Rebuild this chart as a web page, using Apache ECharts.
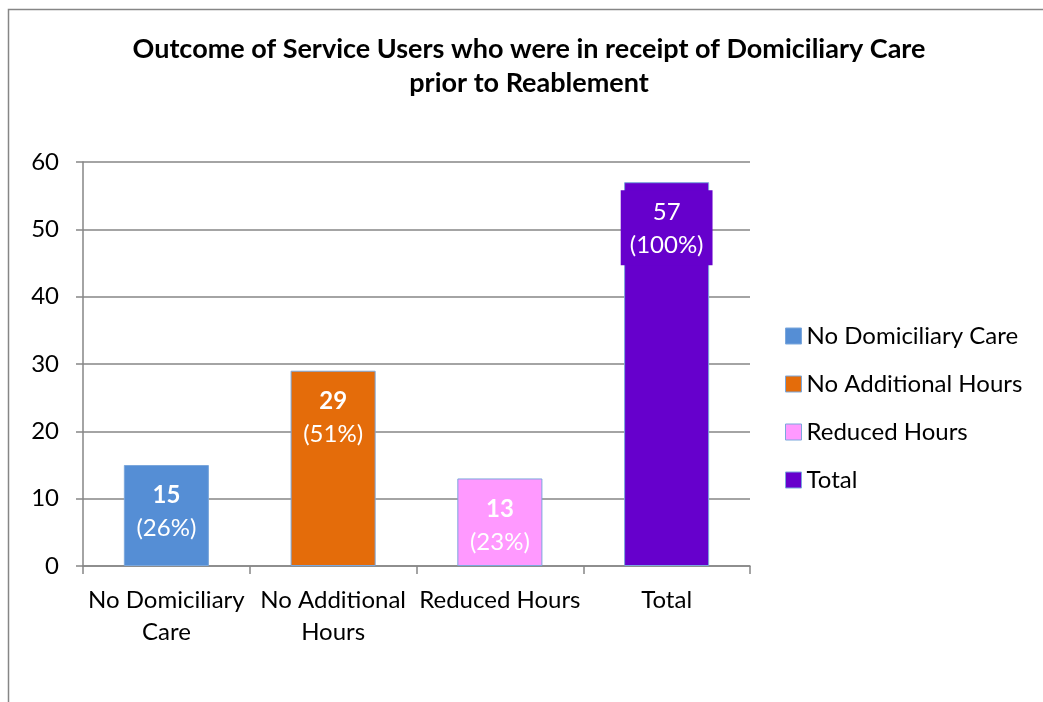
<!DOCTYPE html>
<html>
<head>
<meta charset="utf-8">
<style>
  html, body { margin: 0; padding: 0; background: #fff; }
  #chart { width: 1043px; height: 702px; }
</style>
<script src="https://cdn.jsdelivr.net/npm/echarts@6/dist/echarts.min.js"></script>
</head>
<body>
<div id="chart"></div>
<script>
// data
const categories = ['No Domiciliary\nCare', 'No Additional\nHours', 'Reduced Hours', 'Total'];
const seriesNames = ['No Domiciliary Care', 'No Additional Hours', 'Reduced Hours', 'Total'];
const values = [15, 29, 13, 57];
const percents = ['26%', '51%', '23%', '100%'];
const colors = ['#558ED5', '#E46C0A', '#FF99FF', '#6600CC'];

const font = 'Lato, "Open Sans", sans-serif';

const chart = echarts.init(document.getElementById('chart'));

// one series per category, stacked so each bar sits centred on its own category
const series = seriesNames.map((name, i) => {
  const data = categories.map((c, j) => (j === i ? values[i] : '-'));
  const isTotal = name === 'Total';
  return {
    name: name,
    type: 'bar',
    stack: 'all',
    barWidth: '51%',
    data: data,
    itemStyle: { color: colors[i], borderColor: '#7BA7DC', borderWidth: 1 },
    label: {
      show: true,
      position: 'insideTop',
      distance: isTotal ? 8 : 14,
      formatter: () => '{v|' + values[i] + '}\n{p|(' + percents[i] + ')}',
      backgroundColor: isTotal ? colors[i] : 'transparent',
      padding: isTotal ? [6, 9, 3, 9] : 0,
      rich: {
        v: { color: '#fff', fontFamily: font, fontSize: 24, fontWeight: isTotal ? 'normal' : 'bold', lineHeight: 33 },
        p: { color: '#fff', fontFamily: font, fontSize: 24, lineHeight: 33 }
      }
    }
  };
});

chart.setOption({
  animation: false,
  title: {
    text: 'Outcome of Service Users who were in receipt of Domiciliary Care\nprior to Reablement',
    left: 524,
    top: 27,
    textAlign: 'center',
    textStyle: { fontFamily: font, fontSize: 27, fontWeight: 'bold', color: '#000', lineHeight: 34 }
  },
  graphic: [{
    type: 'rect',
    shape: { x: 8.5, y: 9.5, width: 1100, height: 800 },
    style: { fill: 'none', stroke: '#868686', lineWidth: 1.5 },
    silent: true
  }],
  legend: {
    orient: 'vertical',
    left: 785,
    top: 324,
    padding: 0,
    icon: 'rect',
    itemWidth: 16,
    itemHeight: 16,
    itemGap: 24,
    data: seriesNames,
    itemStyle: { borderColor: '#7BA7DC', borderWidth: 1 },
    textStyle: { fontFamily: font, fontSize: 24, color: '#000' }
  },
  grid: { left: 83, right: 293, top: 162, bottom: 136 },
  xAxis: {
    type: 'category',
    data: categories,
    axisLine: { lineStyle: { color: '#868686', width: 1.5 } },
    axisTick: { show: true, length: 8, lineStyle: { color: '#868686', width: 1.5 } },
    axisLabel: { fontFamily: font, fontSize: 24, color: '#000', margin: 18, lineHeight: 32, interval: 0 }
  },
  yAxis: {
    type: 'value',
    min: 0,
    max: 60,
    interval: 10,
    axisLine: { show: true, lineStyle: { color: '#868686', width: 1.5 } },
    axisTick: { show: true, length: 7, lineStyle: { color: '#868686', width: 1.5 } },
    splitLine: { lineStyle: { color: '#868686', width: 1.5 } },
    axisLabel: { fontFamily: font, fontSize: 24, color: '#000', margin: 24 }
  },
  series: series
});
</script>
</body>
</html>
